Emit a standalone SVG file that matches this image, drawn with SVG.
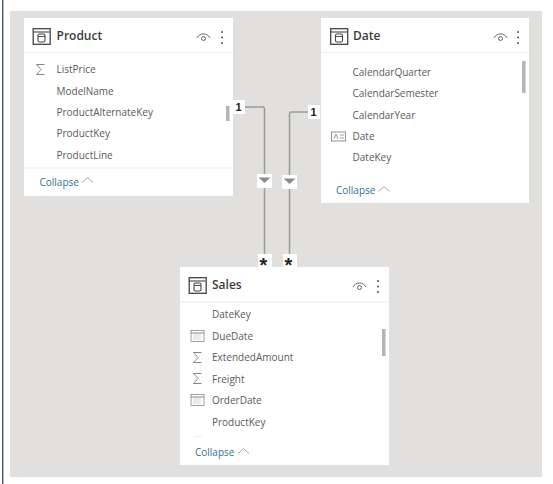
<svg xmlns="http://www.w3.org/2000/svg" width="553" height="484" viewBox="0 0 553 484">
<defs>
<filter id="soft" x="-10%" y="-10%" width="120%" height="120%"><feGaussianBlur stdDeviation="0.3"/></filter>
<g id="tbl"><rect x="0.7" y="0.7" width="17" height="15.6" fill="none" stroke="#444" stroke-width="1.3"/><path d="M1 4H17" stroke="#444" stroke-width="1.1"/><rect x="5.5" y="6" width="7" height="8" rx="1.5" fill="none" stroke="#444" stroke-width="1.1"/><path d="M5.5 8.5H12.5" stroke="#444" stroke-width="0.9"/></g>
<g id="eye"><path d="M0 6C3 0.5 10 0.5 13 6" fill="none" stroke="#555" stroke-width="0.9"/><circle cx="6.5" cy="6.5" r="2" fill="none" stroke="#555" stroke-width="0.9"/></g>
<g id="dots"><circle cx="0" cy="0" r="1" fill="#555"/><circle cx="0" cy="5.5" r="1" fill="#555"/><circle cx="0" cy="11" r="1" fill="#555"/></g>
<path id="sig" d="M8.5 0.5H0.5L5 5.5L0.5 10.5H8.5" fill="none" stroke="#666" stroke-width="0.8"/>
<g id="cal"><rect x="0.5" y="0.5" width="13" height="11" fill="#fff" stroke="#888" stroke-width="0.8"/><path d="M0.5 3H13.5" stroke="#888"/><path d="M3 5H11M3 7H11M3 9H11" stroke="#aaa" stroke-dasharray="1 1"/></g>
<path id="chev" d="M0 5.5L5.5 0.5L11 5.5" fill="none" stroke="#8aa4b5" stroke-width="0.9"/>
</defs>
<style>
.card{fill:#fff}
.t{font-family:"Open Sans","DejaVu Sans",sans-serif;font-size:10px;fill:#5a5a5a}
.h{font-family:"Open Sans","DejaVu Sans",sans-serif;font-size:12px;font-weight:600;fill:#3b3b3b}
.c{font-family:"Open Sans","DejaVu Sans",sans-serif;font-size:10px;fill:#2f7196}
.m{font-family:"Liberation Sans",sans-serif;font-size:11px;font-weight:700;fill:#222}
.s{font-family:"Liberation Sans",sans-serif;font-size:20px;font-weight:700;fill:#222}
.l{fill:none;stroke:#9a9a9a;stroke-width:1.5}
.b{fill:#fff}
.sep{stroke:#f2f2f2;stroke-width:1.5}
.sb{fill:#b4b4b4}
</style>
<rect width="553" height="484" fill="#fff"/>
<rect x="2" y="0" width="1.4" height="484" fill="#4a5468"/>
<rect x="10" y="11" width="532" height="466" fill="#e1e0df"/>
<g id="connectors">
<path class="l" d="M245 107H262.5Q264.500 107 264.500 109V255"/>
<path class="l" d="M308 112H291Q289.500 112 289.500 114V255"/>
<rect class="b" x="257" y="174" width="15" height="14"/><path d="M258.500 177.500H270.500L264.500 183Z" fill="#8b8b8b"/>
<rect class="b" x="282" y="175" width="15" height="14"/><path d="M283.500 178.500H295.500L289.500 184Z" fill="#8b8b8b"/>
<rect class="b" x="233" y="100" width="12" height="14"/><text class="m" x="235.500" y="111">1</text>
<rect class="b" x="308" y="105" width="12" height="14"/><text class="m" x="310.500" y="116">1</text>
<rect class="b" x="258" y="254" width="14" height="13"/><text class="s" x="259.500" y="272">*</text>
<rect class="b" x="283" y="254" width="14" height="13"/><text class="s" x="284.500" y="272">*</text>
</g>
<g id="product">
<rect class="card" x="24" y="18" width="209" height="178"/>
<path class="sep" d="M24 52.500H233"/>
<use href="#tbl" x="32.500" y="28"/>
<text class="h" x="56.500" y="40">Product</text>
<use href="#eye" x="197" y="32"/><use href="#dots" x="222" y="32"/>
<use href="#sig" x="36" y="64"/>
<text class="t" x="56.500" y="73">ListPrice</text>
<text class="t" x="56.500" y="95">ModelName</text>
<text class="t" x="56.500" y="116">ProductAlternateKey</text>
<text class="t" x="56.500" y="137">ProductKey</text>
<text class="t" x="56.500" y="159">ProductLine</text>
<rect class="sb" x="226" y="106" width="3.500" height="15"/>
<path class="sep" d="M24 168H233"/>
<text class="c" x="39.500" y="186">Collapse</text><use href="#chev" x="82" y="177"/>
</g>
<g id="date">
<rect class="card" x="321" y="18" width="208" height="185"/>
<path class="sep" d="M321 52.500H529"/>
<use href="#tbl" x="330" y="28"/>
<text class="h" x="353" y="40">Date</text>
<use href="#eye" x="494" y="32"/><use href="#dots" x="518" y="32"/>
<text class="t" x="352.500" y="76">CalendarQuarter</text>
<text class="t" x="352.500" y="97">CalendarSemester</text>
<text class="t" x="352.500" y="119">CalendarYear</text>
<rect x="331.500" y="132" width="14" height="9" fill="#fff" stroke="#777" stroke-width="0.8"/><path d="M340 135H344M340 138H344M334 139L336 134L338 139" fill="none" stroke="#777" stroke-width="0.7"/>
<text class="t" x="352.500" y="140">Date</text>
<text class="t" x="352.500" y="161">DateKey</text>
<rect class="sb" x="522" y="61" width="3.500" height="32"/>
<text class="c" x="336" y="194">Collapse</text><use href="#chev" x="378.500" y="186"/>
</g>
<g id="sales">
<rect class="card" x="180" y="267" width="209" height="198"/>
<path class="sep" d="M180 302H389"/>
<use href="#tbl" x="188.500" y="277"/>
<text class="h" x="212" y="289">Sales</text>
<use href="#eye" x="353" y="281"/><use href="#dots" x="378" y="281"/>
<text class="t" x="212" y="318">DateKey</text>
<use href="#cal" x="190.500" y="330"/>
<text class="t" x="212" y="340">DueDate</text>
<use href="#sig" x="193" y="352"/>
<text class="t" x="212" y="361">ExtendedAmount</text>
<use href="#sig" x="193" y="373"/>
<text class="t" x="212" y="383">Freight</text>
<use href="#cal" x="190.500" y="394"/>
<text class="t" x="212" y="404">OrderDate</text>
<text class="t" x="212" y="426">ProductKey</text>
<rect class="sb" x="382" y="329" width="3.500" height="27"/>
<path class="sep" d="M194 436.500H202"/>
<text class="c" x="195" y="456">Collapse</text><use href="#chev" x="238" y="448"/>
</g>
</svg>
